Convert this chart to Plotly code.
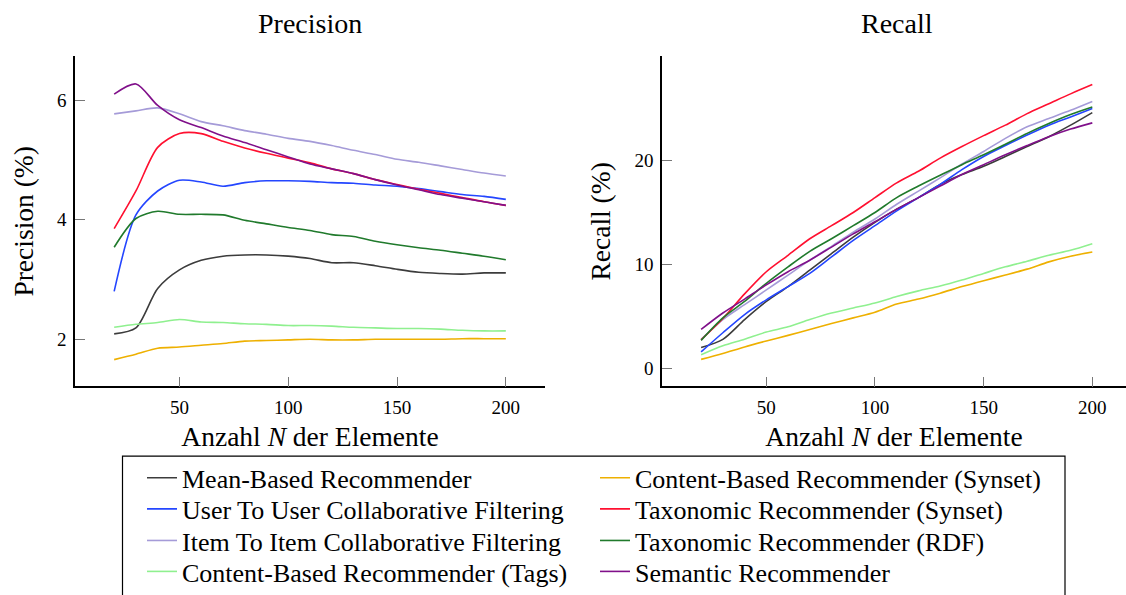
import plotly.graph_objects as go

N = [20, 30, 40, 50, 60, 70, 80, 90, 100, 110, 120, 130, 140, 150, 160, 170, 180, 190, 200]

names = [
    "Mean-Based Recommender",
    "User To User Collaborative Filtering",
    "Item To Item Collaborative Filtering",
    "Content-Based Recommender (Tags)",
    "Content-Based Recommender (Synset)",
    "Taxonomic Recommender (Synset)",
    "Taxonomic Recommender (RDF)",
    "Semantic Recommender",
]
colors = ["#3c3c3c", "#2446ff", "#a59bd8", "#8ff08f", "#eeb000", "#ff1030", "#207a2c", "#80108a"]

prec_mean = [2.09, 2.19, 2.85, 3.16, 3.32, 3.39, 3.41, 3.41, 3.39, 3.35, 3.28, 3.28, 3.23, 3.17, 3.12, 3.10, 3.09, 3.11, 3.11]
prec_user = [2.80, 4.08, 4.48, 4.66, 4.63, 4.56, 4.62, 4.65, 4.65, 4.64, 4.62, 4.61, 4.58, 4.56, 4.52, 4.47, 4.42, 4.39, 4.34]
prec_item = [5.77, 5.82, 5.87, 5.77, 5.64, 5.57, 5.49, 5.43, 5.36, 5.31, 5.24, 5.16, 5.09, 5.01, 4.96, 4.90, 4.84, 4.78, 4.73]
prec_tags = [2.20, 2.25, 2.28, 2.33, 2.29, 2.28, 2.26, 2.25, 2.23, 2.23, 2.22, 2.20, 2.19, 2.18, 2.18, 2.17, 2.15, 2.14, 2.14]
prec_csyn = [1.66, 1.75, 1.85, 1.87, 1.90, 1.93, 1.97, 1.98, 1.99, 2.00, 1.99, 1.99, 2.00, 2.00, 2.00, 2.00, 2.01, 2.01, 2.01]
prec_tsyn = [3.85, 4.48, 5.21, 5.44, 5.44, 5.31, 5.20, 5.11, 5.03, 4.95, 4.85, 4.77, 4.67, 4.59, 4.51, 4.44, 4.37, 4.30, 4.24]
prec_rdf = [3.54, 4.02, 4.14, 4.09, 4.09, 4.08, 3.99, 3.93, 3.87, 3.82, 3.75, 3.72, 3.64, 3.58, 3.53, 3.49, 3.44, 3.39, 3.33]
prec_sem = [6.10, 6.27, 5.91, 5.67, 5.54, 5.40, 5.29, 5.17, 5.05, 4.93, 4.85, 4.77, 4.67, 4.58, 4.50, 4.42, 4.36, 4.30, 4.24]

rec_mean = [2.00, 2.79, 4.69, 6.43, 7.86, 9.45, 11.03, 12.61, 14.04, 15.31, 16.42, 17.69, 18.64, 19.43, 20.38, 21.33, 22.28, 23.39, 24.60]
rec_user = [1.58, 3.42, 5.17, 6.59, 7.86, 9.13, 10.71, 12.30, 13.72, 15.15, 16.42, 17.69, 19.11, 20.38, 21.43, 22.44, 23.39, 24.18, 24.98]
rec_item = [2.79, 4.69, 6.12, 7.54, 8.97, 10.40, 11.73, 13.09, 14.36, 15.78, 17.05, 18.32, 19.65, 20.86, 22.12, 23.23, 24.03, 24.82, 25.67]
rec_tags = [1.30, 2.16, 2.79, 3.49, 3.99, 4.69, 5.32, 5.80, 6.28, 6.91, 7.45, 7.92, 8.49, 9.13, 9.76, 10.30, 10.87, 11.35, 11.98]
rec_csyn = [0.86, 1.43, 2.06, 2.63, 3.17, 3.74, 4.31, 4.85, 5.39, 6.18, 6.66, 7.23, 7.86, 8.43, 8.97, 9.54, 10.24, 10.78, 11.19]
rec_tsyn = [2.73, 4.79, 7.16, 9.29, 10.87, 12.46, 13.72, 14.99, 16.42, 17.84, 18.95, 20.22, 21.33, 22.38, 23.39, 24.50, 25.45, 26.40, 27.29]
rec_rdf = [2.69, 4.85, 6.43, 8.18, 9.76, 11.25, 12.46, 13.72, 14.99, 16.42, 17.53, 18.57, 19.59, 20.54, 21.55, 22.60, 23.55, 24.41, 25.13]
rec_sem = [3.74, 5.32, 6.66, 8.02, 9.29, 10.40, 11.66, 12.93, 14.10, 15.31, 16.42, 17.53, 18.64, 19.59, 20.54, 21.43, 22.28, 23.01, 23.61]

precision = [prec_mean, prec_user, prec_item, prec_tags, prec_csyn, prec_tsyn, prec_rdf, prec_sem]
recall = [rec_mean, rec_user, rec_item, rec_tags, rec_csyn, rec_tsyn, rec_rdf, rec_sem]

FONT = "Liberation Serif"
W, H = 1126, 595

# legend layout: two columns, four rows (column-major like the original)
leg_rows_px = [483.5, 515, 547, 578.5]
leg_cols_px = [142, 595]

fig = go.Figure()
legends = {}
for i, name in enumerate(names):
    lid = "legend" if i == 0 else f"legend{i + 1}"
    col, row = divmod(i, 4)
    legends[lid] = dict(
        x=leg_cols_px[col] / W, y=1 - leg_rows_px[row] / H,
        xanchor="left", yanchor="middle", orientation="v",
        bgcolor="rgba(0,0,0,0)", borderwidth=0,
        font=dict(family=FONT, size=26, color="black"),
    )
    fig.add_trace(go.Scatter(
        x=N, y=precision[i], name=name, mode="lines",
        line=dict(color=colors[i], width=1.6, shape="spline", smoothing=0.8),
        xaxis="x", yaxis="y", legend=lid, legendgroup=name, showlegend=True,
    ))
    fig.add_trace(go.Scatter(
        x=N, y=recall[i], name=name, mode="lines",
        line=dict(color=colors[i], width=1.6, shape="spline", smoothing=0.8),
        xaxis="x2", yaxis="y2", legendgroup=name, showlegend=False,
    ))

ax_common = dict(
    showline=True, linecolor="black", linewidth=1.5, mirror=False,
    showgrid=False, zeroline=False, ticks="inside", ticklen=10, tickwidth=1,
    tickcolor="#777777", tickfont=dict(family=FONT, size=19, color="black"),
    automargin=False,
)
ydom = [1 - 391 / H, 1 - 57 / H]
xtitle = dict(text="Anzahl <i>N</i> der Elemente", font=dict(family=FONT, size=27.5), standoff=10)
fig.update_layout(
    width=W, height=H,
    margin=dict(l=0, r=0, t=0, b=0),
    paper_bgcolor="white", plot_bgcolor="white",
    font=dict(family=FONT, color="black"),
    xaxis=dict(domain=[75 / W, 545 / W], range=[2, 218], tickvals=[50, 100, 150, 200],
               title=xtitle, anchor="y", ticklabelstandoff=3, **ax_common),
    yaxis=dict(domain=ydom, range=[1.212, 6.732], tickvals=[2, 4, 6],
               title=dict(text="Precision (%)", font=dict(family=FONT, size=27.5), standoff=15),
               anchor="x", ticklabelstandoff=3, **ax_common),
    xaxis2=dict(domain=[662 / W, 1.0], range=[2, 215.5], tickvals=[50, 100, 150, 200],
                title=xtitle, anchor="y2", ticklabelstandoff=3, **ax_common),
    yaxis2=dict(domain=ydom, range=[-1.74, 30.01], tickvals=[0, 10, 20],
                title=dict(text="Recall (%)", font=dict(family=FONT, size=27.5), standoff=16),
                anchor="x2", ticklabelstandoff=3, **ax_common),
    annotations=[
        dict(text="Precision", x=(75 + 545) / 2 / W, y=1 - 24 / H, xref="paper", yref="paper",
             showarrow=False, font=dict(family=FONT, size=28), xanchor="center", yanchor="middle"),
        dict(text="Recall", x=(662 + 1131) / 2 / W, y=1 - 24 / H, xref="paper", yref="paper",
             showarrow=False, font=dict(family=FONT, size=28), xanchor="center", yanchor="middle"),
    ],
    shapes=[
        dict(type="rect", xref="paper", yref="paper", x0=122.5 / W, x1=1065 / W,
             y0=1 - 461.5 / H, y1=-0.05, line=dict(color="black", width=1.2), fillcolor="rgba(0,0,0,0)"),
    ],
    **legends,
)

fig.write_html("out.html")
